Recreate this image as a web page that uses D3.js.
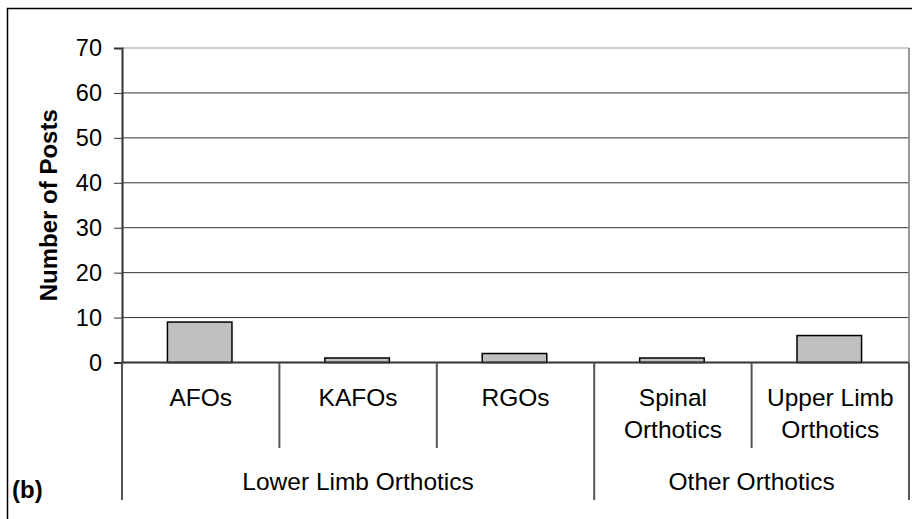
<!DOCTYPE html>
<html>
<head>
<meta charset="utf-8">
<script src="https://cdn.jsdelivr.net/npm/d3@7"></script>
<style>
  body { margin: 0; background: #fff; }
  text { font-family: "Liberation Sans", Arial, sans-serif; fill: #000; }
</style>
</head>
<body>
<svg id="chart" width="912" height="519"></svg>
<script>
// data
var categories = ["AFOs", "KAFOs", "RGOs", "Spinal\nOrthotics", "Upper Limb\nOrthotics"];
var posts = [9, 1, 2, 1, 6];
var groups = ["Lower Limb Orthotics", "Other Orthotics"];
var groupSizes = [3, 2];
var yTicks = [0, 10, 20, 30, 40, 50, 60, 70];

var svg = d3.select("#chart");

// outer frame
svg.append("rect")
    .attr("x", 7.5).attr("y", 8.5)
    .attr("width", 920).attr("height", 520)
    .attr("fill", "none").attr("stroke", "#000").attr("stroke-width", 1.5);

var x = d3.scaleBand()
    .domain(categories)
    .range([122, 909])
    .paddingInner(0).paddingOuter(0);

var y = d3.scaleLinear()
    .domain([0, 70])
    .range([362.5, 48]);

// gridlines
svg.append("g").selectAll("line")
    .data(yTicks.filter(d => d > 0))
    .enter().append("line")
    .attr("x1", 122).attr("x2", 909)
    .attr("y1", d => y(d)).attr("y2", d => y(d))
    .attr("stroke", d => d == 70 ? "#999" : "#333")
    .attr("stroke-width", 1);

// right plot border
svg.append("line")
    .attr("x1", 909).attr("x2", 909)
    .attr("y1", y(70)).attr("y2", y(0))
    .attr("stroke", "#999").attr("stroke-width", 2);

// bars
var barW = x.bandwidth() * 0.41;
svg.append("g").selectAll("rect")
    .data(posts)
    .enter().append("rect")
    .attr("x", (d, i) => x(categories[i]) + x.bandwidth() / 2 - barW / 2 - 1)
    .attr("y", d => y(d))
    .attr("width", barW)
    .attr("height", d => y(0) - y(d))
    .attr("fill", "#c0c0c0")
    .attr("stroke", "#000")
    .attr("stroke-width", 1.5);

// y axis
var yAxis = d3.axisLeft(y)
    .tickValues(yTicks)
    .tickSize(8)
    .tickPadding(12);
var gy = svg.append("g")
    .attr("transform", "translate(122,0)")
    .call(yAxis);
gy.select(".domain").attr("stroke", "#333").attr("stroke-width", 2);
gy.selectAll(".tick line").attr("stroke", "#333");
gy.selectAll(".tick text")
    .style("font-size", "23.5px")
    .style("font-family", "Liberation Sans, Arial, sans-serif");

// x axis baseline
svg.append("line")
    .attr("x1", 122).attr("x2", 909)
    .attr("y1", y(0)).attr("y2", y(0))
    .attr("stroke", "#333").attr("stroke-width", 2);

// category separators
var sepIdx = [0, 1, 2, 3, 4, 5];
var bounds = sepIdx.map(i => i < categories.length ? x(categories[i]) : x.range()[1]);
var groupEdges = [0];
groupSizes.reduce((acc, n) => { acc += n; groupEdges.push(acc); return acc; }, 0);

svg.append("g").selectAll("line")
    .data(sepIdx)
    .enter().append("line")
    .attr("x1", i => bounds[i]).attr("x2", i => bounds[i])
    .attr("y1", y(0))
    .attr("y2", i => groupEdges.includes(i) ? 500 : 448)
    .attr("stroke", "#555").attr("stroke-width", 2);

// category labels
svg.append("g").selectAll("text")
    .data(categories)
    .enter().append("text")
    .attr("text-anchor", "middle")
    .style("font-size", "24.5px")
    .each(function(d) {
        var lines = d.split("\n");
        var t = d3.select(this);
        lines.forEach((ln, k) => {
            t.append("tspan")
                .attr("x", x(d) + x.bandwidth() / 2)
                .attr("y", 406 + k * 32)
                .text(ln);
        });
    });

// group labels
svg.append("g").selectAll("text")
    .data(groups)
    .enter().append("text")
    .attr("text-anchor", "middle")
    .style("font-size", "24.5px")
    .attr("x", (d, i) => (bounds[groupEdges[i]] + bounds[groupEdges[i + 1]]) / 2)
    .attr("y", 490)
    .text(d => d);

// axis title
svg.append("text")
    .attr("transform", "translate(57," + ((y(0) + y(70)) / 2) + ") rotate(-90)")
    .attr("text-anchor", "middle")
    .style("font-size", "24px")
    .style("font-weight", "bold")
    .text("Number of Posts");

// panel tag
svg.append("text")
    .attr("x", 12).attr("y", 498)
    .style("font-size", "24px")
    .style("font-weight", "bold")
    .text("(b)");
</script>
</body>
</html>
